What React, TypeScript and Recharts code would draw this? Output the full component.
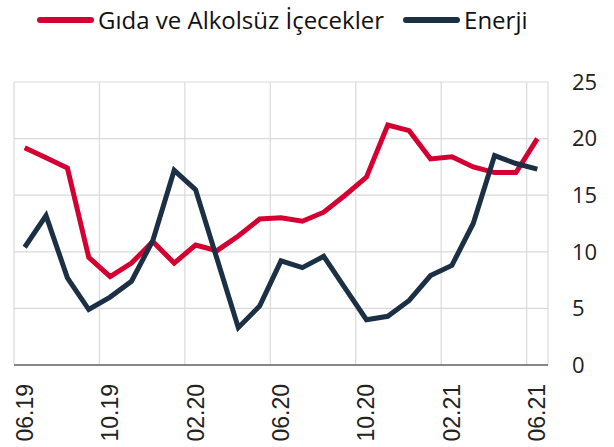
import { LineChart, Line, XAxis, YAxis, CartesianGrid, Legend } from "recharts";

const months = [
  "06.19", "07.19", "08.19", "09.19", "10.19", "11.19", "12.19", "01.20", "02.20",
  "03.20", "04.20", "05.20", "06.20", "07.20", "08.20", "09.20", "10.20", "11.20",
  "12.20", "01.21", "02.21", "03.21", "04.21", "05.21", "06.21",
];

const food = [
  19.2, 18.3, 17.4, 9.5, 7.8, 9.0, 10.9, 9.0, 10.6, 10.1, 11.4, 12.9, 13.0,
  12.7, 13.5, 15.0, 16.6, 21.2, 20.7, 18.2, 18.4, 17.5, 17.0, 17.0, 20.0,
];

const energy = [
  10.4, 13.2, 7.7, 4.9, 6.0, 7.4, 11.0, 17.2, 15.5, 9.4, 3.3, 5.2, 9.2,
  8.6, 9.6, 6.8, 4.0, 4.3, 5.7, 7.9, 8.8, 12.5, 18.5, 17.8, 17.3,
];

const yTicks = [0, 5, 10, 15, 20, 25];
// gridlines sit between months, every fourth month
const xTicks = [-0.5, 3.5, 7.5, 11.5, 15.5, 19.5, 23.5];

const RED = "#d50032";
const NAVY = "#1b3044";

const W = 614;
const H = 447;
const margin = { top: 82, right: 0, bottom: 0, left: 14 };
const Y_W = 66;
const HALF = (W - margin.left - margin.right - Y_W) / months.length / 2;

const data = months.map((m, i) => ({ idx: i, month: m, food: food[i], energy: energy[i] }));

const XTick = (props: any) => {
  const { x, payload } = props;
  const label = months[Math.round(payload.value + 0.5)];
  const cx = x + HALF;
  const ty = 365 + 19;
  return (
    <text
      x={cx}
      y={ty}
      transform={`rotate(-90 ${cx} ${ty})`}
      textAnchor="end"
      dominantBaseline="central"
      fontFamily="'Liberation Sans', Arial, sans-serif"
      fontSize={23}
      fill="#222"
    >
      {label}
    </text>
  );
};

const items = [
  { name: "Gıda ve Alkolsüz İçecekler", color: RED },
  { name: "Enerji", color: NAVY },
];

const renderLegend = () => (
  <div
    style={{
      display: "flex",
      alignItems: "center",
      paddingLeft: 37,
      height: 40,
      fontFamily: "'Open Sans', sans-serif",
      fontSize: 24,
      color: "#111",
    }}
  >
    {items.map((it, i) => (
      <div key={it.name} style={{ display: "flex", alignItems: "center", marginRight: i === 0 ? 19 : 0 }}>
        <span style={{ display: "inline-block", width: 57, height: 6, borderRadius: 3, background: it.color, marginRight: 4 }} />
        <span style={{ lineHeight: "40px" }}>{it.name}</span>
      </div>
    ))}
  </div>
);

export default function App() {
  return (
    <div style={{ position: "absolute", left: 0, top: 0, width: W, height: H, background: "#fff" }}>
      <LineChart width={W} height={H} data={data} margin={margin}>
        <CartesianGrid stroke="#dadada" strokeWidth={1.2} />
        <XAxis
          dataKey="idx"
          type="number"
          domain={[-0.5, 24.5]}
          ticks={xTicks}
          interval={0}
          height={H - 365}
          axisLine={{ stroke: "#222", strokeWidth: 1.2 }}
          tickLine={false}
          tick={<XTick />}
        />
        <YAxis
          orientation="right"
          domain={[0, 25]}
          ticks={yTicks}
          width={Y_W}
          axisLine={false}
          tickLine={false}
          tickSize={6}
          tickMargin={18}
          tick={{ fontSize: 22, fill: "#222", fontFamily: "'Open Sans', sans-serif", textAnchor: "start" }}
        />
        <Legend
          verticalAlign="middle"
          align="center"
          layout="horizontal"
          wrapperStyle={{ top: 0, left: 0, width: W }}
          content={renderLegend}
        />
        <Line dataKey="food" name="Gıda ve Alkolsüz İçecekler" stroke={RED} strokeWidth={5} dot={false} isAnimationActive={false} />
        <Line dataKey="energy" name="Enerji" stroke={NAVY} strokeWidth={5} dot={false} isAnimationActive={false} />
      </LineChart>
    </div>
  );
}
